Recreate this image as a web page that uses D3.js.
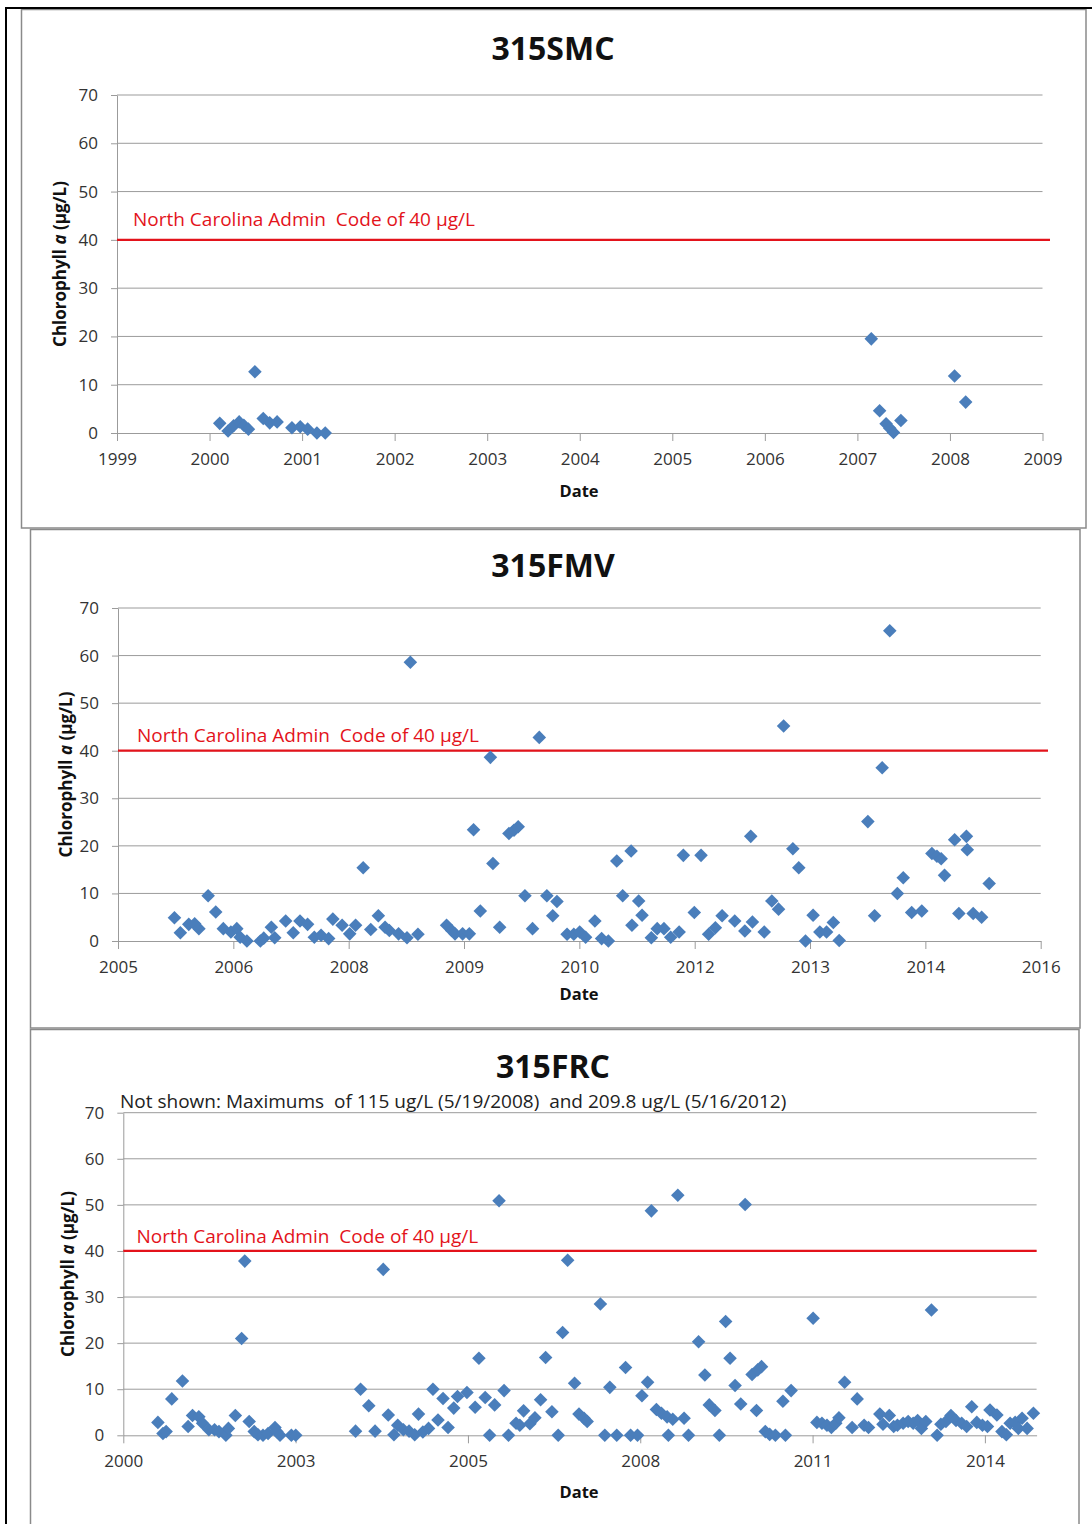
<!DOCTYPE html>
<html>
<head>
<meta charset="utf-8">
<script src="https://cdn.jsdelivr.net/npm/d3@7"></script>
<style>
  body { margin: 0; background: #fff; }
  svg { display: block; font-family: "Open Sans", sans-serif; }
</style>
</head>
<body>
<svg id="chart" width="1092" height="1524"></svg>
<script>
// ---- data (decimal year, chlorophyll a in ug/L) ----
const smcDates = [2000.11, 2000.20, 2000.26, 2000.32, 2000.37, 2000.42, 2000.49, 2000.58, 2000.65, 2000.73,
  2000.89, 2000.98, 2001.06, 2001.16, 2001.25, 2007.15, 2007.24, 2007.31, 2007.35, 2007.39, 2007.47, 2008.05, 2008.17]
const smcChl = [2.0, 0.4, 1.5, 2.3, 1.6, 0.8, 12.7, 3.0, 2.1, 2.3,
  1.1, 1.3, 0.8, 0, 0, 19.5, 4.6, 1.9, 1.0, 0.1, 2.6, 11.8, 6.4]

const fmvDates = [2005.97, 2006.04, 2006.14, 2006.21, 2006.26, 2006.37, 2006.46, 2006.55, 2006.64, 2006.71,
  2006.75, 2006.83, 2006.99, 2007.03, 2007.12, 2007.16, 2007.29, 2007.38, 2007.46, 2007.55,
  2007.63, 2007.71, 2007.80, 2007.85, 2007.96, 2008.05, 2008.12, 2008.21, 2008.30, 2008.39,
  2008.47, 2008.52, 2008.63, 2008.73, 2008.77, 2008.86, 2009.20, 2009.26, 2009.30, 2009.39,
  2009.47, 2009.52, 2009.60, 2009.72, 2009.75, 2009.83, 2009.94, 2010.00, 2010.05, 2010.13,
  2010.22, 2010.30, 2010.39, 2010.46, 2010.51, 2010.63, 2010.71, 2010.78, 2010.85, 2010.96,
  2011.04, 2011.12, 2011.22, 2011.29, 2011.39, 2011.40, 2011.48, 2011.52, 2011.63, 2011.70,
  2011.78, 2011.86, 2011.96, 2012.01, 2012.14, 2012.22, 2012.31, 2012.39, 2012.47, 2012.62,
  2012.74, 2012.81, 2012.83, 2012.97, 2013.06, 2013.14, 2013.20, 2013.31, 2013.38, 2013.46,
  2013.55, 2013.63, 2013.71, 2013.79, 2013.86, 2014.20, 2014.28, 2014.37, 2014.46, 2014.55,
  2014.62, 2014.72, 2014.84, 2014.96, 2015.02, 2015.07, 2015.11, 2015.23, 2015.28, 2015.37,
  2015.38, 2015.45, 2015.55, 2015.64]
const fmvChl = [4.9, 1.75, 3.5, 3.6, 2.6, 9.5, 6.1, 2.6, 1.9, 2.6,
  0.8, 0, 0, 0.6, 2.9, 0.7, 4.2, 1.75, 4.2, 3.5,
  0.8, 1.2, 0.5, 4.6, 3.3, 1.5, 3.3, 15.4, 2.4, 5.3,
  2.9, 2.2, 1.5, 0.7, 58.6, 1.4, 3.3, 2.2, 1.5, 1.5,
  1.5, 23.4, 6.3, 38.6, 16.3, 2.9, 22.6, 23.3, 24.0, 9.5,
  2.6, 42.8, 9.5, 5.3, 8.3, 1.4, 1.4, 1.9, 0.8, 4.2,
  0.5, 0, 16.8, 9.5, 18.9, 3.3, 8.4, 5.4, 0.7, 2.6,
  2.6, 0.8, 1.9, 18.0, 6.0, 18.0, 1.4, 2.8, 5.3, 4.2,
  2.1, 22.0, 4.0, 1.9, 8.4, 6.7, 45.2, 19.4, 15.4, 0,
  5.4, 1.9, 1.9, 3.9, 0.1, 25.1, 5.3, 36.4, 65.2, 10.0,
  13.3, 6.0, 6.3, 18.4, 17.8, 17.3, 13.8, 21.3, 5.8, 22.0,
  19.2, 5.8, 5.0, 12.1]

const frcDates = [2000.95, 2001.03, 2001.08, 2001.17, 2001.34, 2001.43, 2001.50, 2001.60, 2001.66, 2001.76,
  2001.85, 2001.92, 2002.03, 2002.07, 2002.18, 2002.28, 2002.33, 2002.40, 2002.48, 2002.54,
  2002.62, 2002.70, 2002.81, 2002.84, 2002.89, 2003.07, 2003.14, 2004.09, 2004.17, 2004.30,
  2004.40, 2004.53, 2004.61, 2004.70, 2004.76, 2004.85, 2004.94, 2005.03, 2005.09, 2005.16,
  2005.25, 2005.32, 2005.40, 2005.48, 2005.56, 2005.65, 2005.71, 2005.86, 2005.99, 2006.05,
  2006.15, 2006.22, 2006.30, 2006.37, 2006.45, 2006.52, 2006.64, 2006.70, 2006.76, 2006.86,
  2006.94, 2007.03, 2007.11, 2007.21, 2007.31, 2007.38, 2007.46, 2007.57, 2007.64, 2007.72,
  2007.77, 2007.98, 2008.05, 2008.13, 2008.24, 2008.38, 2008.46, 2008.57, 2008.64, 2008.73,
  2008.79, 2008.87, 2008.95, 2009.04, 2009.06, 2009.13, 2009.21, 2009.31, 2009.38, 2009.54,
  2009.64, 2009.71, 2009.80, 2009.87, 2009.97, 2010.04, 2010.12, 2010.21, 2010.28, 2010.39,
  2010.46, 2010.48, 2010.54, 2010.60, 2010.67, 2010.76, 2010.88, 2010.92, 2011.01, 2011.36,
  2011.42, 2011.50, 2011.58, 2011.65, 2011.72, 2011.77, 2011.86, 2011.98, 2012.06, 2012.17,
  2012.24, 2012.42, 2012.47, 2012.57, 2012.64, 2012.70, 2012.79, 2012.87, 2012.95, 2013.02,
  2013.08, 2013.15, 2013.24, 2013.33, 2013.39, 2013.47, 2013.55, 2013.63, 2013.72, 2013.80,
  2013.88, 2013.96, 2014.05, 2014.13, 2014.17, 2014.28, 2014.36, 2014.43, 2014.49, 2014.57,
  2014.62, 2014.68, 2014.76, 2014.86]
const frcChl = [2.8, 0.4, 0.8, 7.9, 11.8, 1.9, 4.3, 4.0, 2.6, 1.2,
  1.2, 0.8, 0, 1.5, 4.3, 21.0, 37.8, 3.0, 0.8, 0.1,
  0, 0.4, 1.7, 0.8, 0, 0, 0, 0.9, 10.0, 6.4,
  0.9, 36.0, 4.4, 0.1, 2.2, 1.2, 0.9, 0.1, 4.6, 0.7,
  1.5, 10.0, 3.3, 8.0, 1.7, 5.9, 8.4, 9.3, 6.1, 16.7,
  8.2, 0, 6.6, 50.9, 9.7, 0, 2.6, 2.2, 5.3, 2.5,
  3.8, 7.7, 16.9, 5.1, 0, 22.3, 38.0, 11.3, 4.6, 3.7,
  3.0, 28.5, 0, 10.4, 0, 14.7, 0, 0, 8.6, 11.5,
  48.7, 5.6, 4.8, 4.0, 0, 3.5, 52.1, 3.7, 0, 20.3,
  13.1, 6.6, 5.4, 0, 24.7, 16.7, 10.8, 6.8, 50.1, 13.2,
  5.4, 14.2, 14.9, 0.8, 0.2, 0, 7.4, 0, 9.7, 25.4,
  2.8, 2.6, 2.2, 1.7, 2.6, 3.8, 11.5, 1.7, 7.9, 2.2,
  1.7, 4.6, 2.4, 4.3, 1.9, 2.2, 2.6, 3.0, 2.6, 3.2,
  1.5, 3.0, 27.2, 0, 2.4, 3.0, 4.3, 3.2, 2.6, 1.9,
  6.2, 2.8, 2.2, 1.9, 5.5, 4.4, 0.8, 0.1, 2.6, 2.8,
  1.5, 3.7, 1.5, 4.8]

// tick labels as shown on each date axis
const smcTicks = ["1999", "2000", "2001", "2002", "2003", "2004", "2005", "2006", "2007", "2008", "2009"]
const fmvTicks = ["2005", "2006", "2008", "2009", "2010", "2012", "2013", "2014", "2016"]
const frcTicks = ["2000", "2003", "2005", "2008", "2011", "2014"]
const yTicks = [0, 10, 20, 30, 40, 50, 60, 70]
const standard = 40

const svg = d3.select("#chart")
const blue = "#4a7ebb", red = "#e3131b", grid = "#9b9b9b"

// page edges
svg.append("rect").attr("width", 1092).attr("height", 1524).attr("fill", "#fff")

function drawPanel(p) {
  const g = svg.append("g")
  const [fx0, fy0, fx1, fy1] = p.frame
  g.append("rect")
    .attr("x", fx0).attr("y", fy0)
    .attr("width", fx1 - fx0).attr("height", fy1 - fy0)
    .attr("fill", "#fff").attr("stroke", "#8a8a8a").attr("stroke-width", 1.5)

  // Excel-style date axis: min + major unit
  const x = d3.scaleLinear()
    .domain([p.axisMin, p.axisMin + p.axisSpan * p.unit])
    .range([p.plot.left, p.plot.right])
  const y = d3.scaleLinear().domain([0, 70]).range([p.plot.bottom, p.plot.top])

  g.append("g").selectAll("line")
    .data(yTicks.filter(v => v > 0))
    .join("line")
    .attr("x1", p.plot.left).attr("x2", p.plot.right)
    .attr("y1", d => y(d)).attr("y2", d => y(d))
    .attr("stroke", grid).attr("stroke-width", 1)

  const yAxis = g.append("g")
    .attr("transform", `translate(${p.plot.left},0)`)
    .call(d3.axisLeft(y).tickValues(yTicks).tickSize(6).tickPadding(13).tickSizeOuter(0))

  const tickVals = p.ticks.map((t, i) => p.axisMin + i * p.unit)
  const xAxis = g.append("g")
    .attr("transform", `translate(0,${p.plot.bottom})`)
    .call(d3.axisBottom(x).tickValues(tickVals).tickFormat((d, i) => p.ticks[i])
      .tickSize(8).tickPadding(12).tickSizeOuter(0))

  ;[yAxis, xAxis].forEach(a => {
    a.select(".domain").attr("stroke", grid)
    a.selectAll(".tick line").attr("stroke", grid)
    a.selectAll(".tick text")
      .attr("fill", "#333").style("font-size", "17px").style("font-family", "Open Sans")
  })

  // standard line
  g.append("line")
    .attr("x1", p.plot.left).attr("x2", p.redEnd)
    .attr("y1", y(standard)).attr("y2", y(standard))
    .attr("stroke", red).attr("stroke-width", 2.2)

  g.append("text")
    .attr("x", p.redLabel[0]).attr("y", p.redLabel[1])
    .attr("fill", red).style("font-size", "19px").style("white-space", "pre")
    .text("North Carolina Admin  Code of 40 \u00b5g/L")

  // points
  g.append("g").selectAll("path")
    .data(d3.zip(p.dates, p.chl))
    .join("path")
    .attr("d", d3.symbol(d3.symbolSquare, 92))
    .attr("transform", d => `translate(${x(d[0])},${y(d[1])}) rotate(45)`)
    .attr("fill", blue)

  g.append("text")
    .attr("x", 553).attr("y", p.titleY)
    .attr("text-anchor", "middle")
    .style("font-size", "32px").style("font-weight", "bold").attr("fill", "#111")
    .text(p.title)

  const yl = g.append("text")
    .attr("transform", `translate(${p.yLabelX},${(p.plot.top + p.plot.bottom) / 2}) rotate(-90)`)
    .attr("text-anchor", "middle").attr("dominant-baseline", "central")
    .style("font-size", "17px").style("font-weight", "bold").attr("fill", "#111")
  yl.append("tspan").text("Chlorophyll ")
  yl.append("tspan").style("font-style", "italic").text("a")
  yl.append("tspan").text(" (\u00b5g/L)")

  g.append("text")
    .attr("x", 579).attr("y", p.dateY)
    .attr("text-anchor", "middle")
    .style("font-size", "16.5px").style("font-weight", "bold").attr("fill", "#111")
    .text("Date")

  if (p.note) {
    g.append("text")
      .attr("x", p.note[0]).attr("y", p.note[1])
      .style("font-size", "19px").style("white-space", "pre").attr("fill", "#222")
      .text(p.note[2])
  }
}

drawPanel({
  title: "315SMC", dates: smcDates, chl: smcChl, ticks: smcTicks,
  axisMin: 1999, unit: 1, axisSpan: 10,
  frame: [21.5, 9.5, 1086, 528],
  plot: { left: 117, right: 1042.5, top: 95, bottom: 433 },
  titleY: 60, yLabelX: 59, redLabel: [133, 226], redEnd: 1050, dateY: 497
})

drawPanel({
  title: "315FMV", dates: fmvDates, chl: fmvChl, ticks: fmvTicks,
  axisMin: 2005.3, unit: 500 / 365.25, axisSpan: 8,
  frame: [30.5, 529.5, 1080, 1028],
  plot: { left: 118, right: 1040.7, top: 608, bottom: 941 },
  titleY: 577, yLabelX: 65, redLabel: [137, 742], redEnd: 1048, dateY: 1000
})

drawPanel({
  title: "315FRC", dates: frcDates, chl: frcChl, ticks: frcTicks,
  axisMin: 2000.4, unit: 1000 / 365.25, axisSpan: 5.3,
  frame: [30.5, 1029.5, 1079, 1530],
  plot: { left: 123.3, right: 1036.6, top: 1112.7, bottom: 1435.3 },
  titleY: 1078, yLabelX: 66.5, redLabel: [136.4, 1243], redEnd: 1036.6, dateY: 1498,
  note: [120, 1108, "Not shown: Maximums  of 115 ug/L (5/19/2008)  and 209.8 ug/L (5/16/2012)"]
})

// outer page border lines
svg.append("line").attr("x1", 6).attr("x2", 6).attr("y1", 8).attr("y2", 1524)
  .attr("stroke", "#000").attr("stroke-width", 2)
svg.append("line").attr("x1", 5).attr("x2", 1092).attr("y1", 8).attr("y2", 8)
  .attr("stroke", "#000").attr("stroke-width", 2)
</script>
</body>
</html>
